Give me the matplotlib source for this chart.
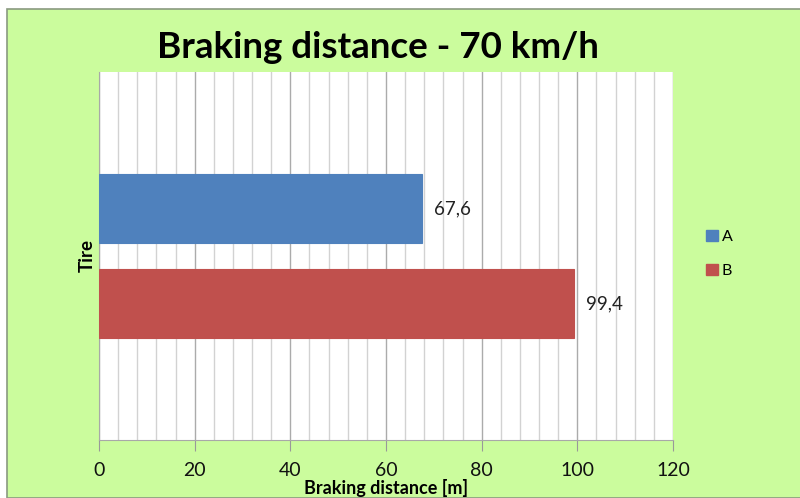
import numpy as np
import matplotlib.pyplot as plt
from matplotlib.patches import Rectangle, Patch

plt.rcParams['font.family'] = ['Lato', 'DejaVu Sans']

series = ['A', 'B']
values = [67.6, 99.4]
labels = ['67,6', '99,4']
colors = ['#4F81BD', '#C0504D']

fig = plt.figure(figsize=(8, 4.98), dpi=100)
fig.patch.set_facecolor('white')
# green chart area with thin grey frame
fig.patches.append(Rectangle((7/800, 0), 1, 1 - 9/498, transform=fig.transFigure,
                             facecolor='#CBFC9D', edgecolor='#8a9a80', lw=1.2, zorder=-10))

ax = fig.add_axes([99/800, 58/498, 574/800, 368/498])
ax.set_facecolor('white')

offsets = [0.129, -0.129]
for name, v, lab, c, off in zip(series, values, labels, colors, offsets):
    ax.barh(0.5 + off, v, height=0.185, color=c, edgecolor=c, lw=0.8, label=name, zorder=3)
    ax.text(v + 2.5, 0.5 + off, lab, va='center', ha='left', fontsize=13.5, color='#222222')

ax.set_xlim(0, 120)
ax.set_ylim(0, 1)
ax.set_xticks(np.arange(0, 121, 20))
ax.set_xticks(np.arange(0, 121, 4), minor=True)
ax.set_yticks([])
ax.grid(axis='x', which='minor', color='#d2d2d2', lw=1, zorder=0)
ax.grid(axis='x', which='major', color='#ababab', lw=1, zorder=1)
ax.tick_params(axis='x', which='major', length=8, color='#999999', labelsize=14,
               labelcolor='#111111', pad=8)
ax.tick_params(axis='x', which='minor', length=0)
for s in ['top', 'right']:
    ax.spines[s].set_visible(False)
for s in ['bottom', 'left']:
    ax.spines[s].set_color('#a8a8a8')

ax.set_xlabel('Braking distance [m]', fontsize=13, fontweight='bold', labelpad=0)
ax.set_ylabel('Tire', fontsize=13.5, fontweight='bold', labelpad=2)

fig.text(0.473, 1 - 47/498, 'Braking distance - 70 km/h', ha='center', va='center',
         fontsize=26.5, fontweight='bold')

handles = [Patch(facecolor=c, edgecolor=c) for c in colors]
fig.legend(handles, series, loc='center left', bbox_to_anchor=(0.865, 0.49),
           frameon=False, fontsize=11.5, handlelength=0.7, handleheight=0.7,
           handletextpad=0.25, labelspacing=1.2)

fig.savefig('out.png', dpi=100)
